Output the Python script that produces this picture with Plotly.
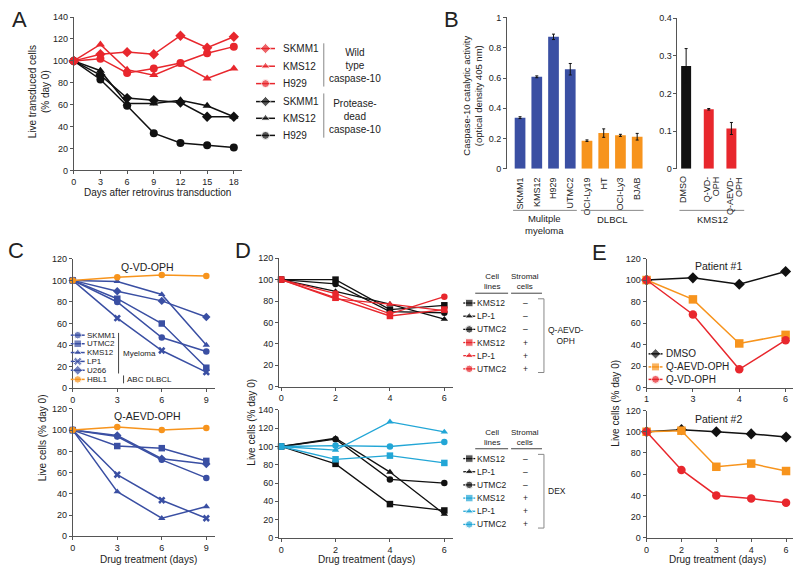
import plotly.graph_objects as go

W, H = 800, 576

# ---- panel A: days after transduction
A_days = [0, 3, 6, 9, 12, 15, 18]
A_wt_skmm1 = [100, 106, 108, 106, 123, 112, 122]
A_wt_kms12 = [100, 115, 92, 87, 97, 84, 93]
A_wt_h929 = [100, 102, 89, 93, 98, 107, 113]
A_pd_skmm1 = [100, 87, 66, 64, 62, 49, 49]
A_pd_kms12 = [100, 91, 61, 61, 64, 59, 49]
A_pd_h929 = [100, 83, 59, 34, 25, 23, 21]

# ---- panel B: caspase-10 activity
B_lines = ["SKMM1", "KMS12", "H929", "UTMC2", "OCI-Ly19", "HT", "OCI-Ly3", "BJAB"]
B_activity = [0.338, 0.608, 0.872, 0.658, 0.186, 0.236, 0.221, 0.212]
B_err = [0.006, 0.006, 0.018, 0.038, 0.005, 0.028, 0.007, 0.022]
B_treat = ["DMSO", "Q-VD-<br>OPH", "Q-AEVD-<br>OPH"]
B_treat_act = [0.273, 0.158, 0.107]
B_treat_err = [0.046, 0.002, 0.016]

# ---- panel C
C_days = [0, 3, 6, 9]
C_names = ["SKMM1", "UTMC2", "KMS12", "LP1", "U266", "HBL1"]
C_qvd = [[100, 80, 47, 34], [100, 83, 60, 19], [100, 99, 87, 40],
         [100, 65, 35, 15], [100, 90, 81, 66], [100, 103, 105, 104]]
C_aevd = [[100, 94, 72, 55], [100, 85, 83, 71], [100, 42, 17, 28],
          [100, 58, 34, 17], [100, 95, 73, 68], [100, 103, 100, 102]]

# ---- panel D
D_days = [0, 2, 4, 6]
D_names = ["KMS12", "LP-1", "UTMC2", "KMS12", "LP-1", "UTMC2"]
D_stromal = ["–", "–", "–", "+", "+", "+"]
D_aevd = [[100, 100, 72, 76], [100, 89, 77, 63], [100, 96, 70, 69],
          [100, 83, 66, 72], [100, 82, 77, 71], [100, 87, 68, 84]]
D_dex = [[100, 81, 37, 30], [100, 109, 72, 26], [100, 108, 64, 60],
         [100, 86, 90, 82], [100, 96, 127, 116], [100, 101, 100, 105]]

# ---- panel E
E_names = ["DMSO", "Q-AEVD-OPH", "Q-VD-OPH"]
E_p1_days = ["1", "3", "4", "6"]
E_p1 = [[100, 102, 96, 108], [100, 82, 41, 49], [100, 68, 17, 44]]
E_p2_days = ["0", "2", "3", "4", "6"]
E_p2 = [[100, 102, 100, 98, 95], [100, 101, 67, 70, 63], [100, 64, 40, 37, 33]]

RED = "#e8272d"
BLACK = "#111111"
BLUE = "#3a4fa3"
ORANGE = "#f7941d"
CYAN = "#22a6d6"
AXC = "#555555"
FONT = "Liberation Sans, Arial, sans-serif"

fig = go.Figure()
layout = {}
shapes = []
annots = []


def xdom(x0, x1):
    return [x0 / W, x1 / W]


def ydom(y0, y1):
    return [1 - y1 / H, 1 - y0 / H]


def add_axes(n, xd, xr, yd, yr, xt=None, yt=None, xtt=None, ytt=None, xline=True,
             xcat=False, xangle=0, xlabels=True):
    sx = "" if n == 1 else str(n)
    xa = dict(domain=xdom(*xd), range=xr, anchor="y" + sx, showgrid=False, zeroline=False,
              showline=xline, linecolor=AXC, linewidth=1, ticks="outside",
              ticklen=3 if xline else 4, tickcolor=AXC if xline else "rgba(0,0,0,0)",
              tickfont=dict(size=9, family=FONT, color="#222"), fixedrange=True,
              tickangle=xangle, showticklabels=xlabels)
    if xcat:
        xa["type"] = "category"
    if xt is not None:
        xa["tickvals"] = xt
        xa["ticktext"] = xtt if xtt is not None else [str(v) for v in xt]
    ya = dict(domain=ydom(*yd), range=yr, anchor="x" + sx, showgrid=False, zeroline=False,
              showline=True, linecolor=AXC, linewidth=1, ticks="outside", ticklen=3,
              tickcolor=AXC, tickfont=dict(size=9, family=FONT, color="#222"), fixedrange=True)
    if yt is not None:
        ya["tickvals"] = yt
        ya["ticktext"] = ytt if ytt is not None else [str(v) for v in yt]
    layout["xaxis" + sx] = xa
    layout["yaxis" + sx] = ya
    return "x" + sx, "y" + sx


def series(ax, x, y, color, symbol, size, width=1.5):
    fig.add_trace(go.Scatter(x=x, y=y, mode="lines+markers", xaxis=ax[0], yaxis=ax[1],
                             line=dict(color=color, width=width),
                             marker=dict(color=color, symbol=symbol, size=size),
                             cliponaxis=False, hoverinfo="skip"))


# ---------------- Panel A
axA = add_axes(1, (71, 240), [0, 18.93], (12.3, 168.3), [0, 140],
               xt=A_days, yt=list(range(0, 141, 20)))
syms = ["diamond", "triangle-up", "circle"]
for ys, s in zip([A_pd_skmm1, A_pd_kms12, A_pd_h929], syms):
    series(axA, A_days, ys, BLACK, s, 8)
for ys, s in zip([A_wt_skmm1, A_wt_kms12, A_wt_h929], syms):
    series(axA, A_days, ys, RED, s, 8)

# ---------------- Panel B
axB1 = add_axes(2, (506, 650), [-0.774, 7.8], (12.7, 166.7), [0, 1],
                xt=list(range(len(B_lines))), xtt=B_lines,
                yt=[0, 0.2, 0.4, 0.6, 0.8, 1], ytt=["0", "0.2", "0.4", "0.6", "0.8", "1"],
                xline=False, xangle=-90)
fig.add_trace(go.Bar(x=list(range(len(B_lines))), y=B_activity, width=0.64,
                     marker=dict(color=[BLUE] * 4 + [ORANGE] * 4, line=dict(width=0)),
                     error_y=dict(type="data", array=B_err, color="#111", thickness=1, width=1.5),
                     xaxis=axB1[0], yaxis=axB1[1], hoverinfo="skip"))
axB2 = add_axes(3, (677, 750), [-0.383, 2.83], (13.3, 166.7), [0, 0.4],
                xt=list(range(len(B_treat))), xtt=B_treat,
                yt=[0, 0.1, 0.2, 0.3, 0.4], ytt=["0", "0.1", "0.2", "0.3", "0.4"],
                xline=False, xlabels=False)
fig.add_trace(go.Bar(x=list(range(len(B_treat))), y=B_treat_act, width=0.44,
                     marker=dict(color=[BLACK, RED, RED], line=dict(width=0)),
                     error_y=dict(type="data", array=B_treat_err, color="#111", thickness=1, width=1.5),
                     xaxis=axB2[0], yaxis=axB2[1], hoverinfo="skip"))
# rotated two-line treatment labels, each line placed on the category axis
for i, lab in enumerate(B_treat):
    parts = lab.split("<br>")
    for j, p in enumerate(parts):
        shift = -3 if len(parts) == 1 else -1 + 9 * j
        annots.append(dict(x=i, y=H - 173.5, xref=axB2[0], yref="y10", text=p, showarrow=False,
                           textangle=-90, xanchor="center", yanchor="top", xshift=shift,
                           borderpad=0, font=dict(size=9, family=FONT, color="#222")))

# ---------------- Panel C
C_syms = ["circle", "square", "triangle-up", "x", "diamond", "circle"]
C_cols = [BLUE] * 5 + [ORANGE]
axC1 = add_axes(4, (70, 213), [0, 9.6], (258.3, 390), [0, 120],
                xt=C_days, yt=list(range(0, 121, 20)))
axC2 = add_axes(5, (70, 213), [0, 9.6], (411, 540.7), [0, 120],
                xt=C_days, yt=list(range(0, 121, 20)))
for ax, data in [(axC1, C_qvd), (axC2, C_aevd)]:
    for ys, s, c in zip(data, C_syms, C_cols):
        series(ax, C_days, ys, c, s, 6.5)

# ---------------- Panel D
D_syms = ["square", "triangle-up", "circle"] * 2
axD1 = add_axes(6, (277, 452), [-0.08, 6.33], (257.7, 388.3), [0, 120],
                xt=D_days, yt=list(range(0, 121, 20)))
axD2 = add_axes(7, (277, 452), [-0.08, 6.33], (412.1, 542.3), [0, 140],
                xt=D_days, yt=list(range(0, 141, 20)))
for ys, s, c in zip(D_aevd, D_syms, [BLACK] * 3 + [RED] * 3):
    series(axD1, D_days, ys, c, s, 6.5, 1.3)
for ys, s, c in zip(D_dex, D_syms, [BLACK] * 3 + [CYAN] * 3):
    series(axD2, D_days, ys, c, s, 6.5, 1.3)

# ---------------- Panel E
E_syms = ["diamond", "square", "circle"]
E_cols = [BLACK, ORANGE, RED]
axE1 = add_axes(8, (646, 793), [0, 3.16], (258, 389.3), [0, 120],
                yt=list(range(0, 121, 20)), xcat=True)
axE2 = add_axes(9, (646, 793), [0, 4.2], (412.7, 542.3), [0, 120],
                yt=list(range(0, 121, 20)), xcat=True)
for ys, s, c in zip(E_p1, E_syms, E_cols):
    series(axE1, E_p1_days, ys, c, s, 8.5)
for ys, s, c in zip(E_p2, E_syms, E_cols):
    series(axE2, E_p2_days, ys, c, s, 8.5)

# ---------------- overlay in pixel units (y measured upward) for legends and labels
layout["xaxis10"] = dict(domain=[0, 1], range=[0, W], visible=False, fixedrange=True, anchor="y10")
layout["yaxis10"] = dict(domain=[0, 1], range=[0, H], visible=False, fixedrange=True, anchor="x10")
OV = ("x10", "y10")


def txt(x, y, s, size=10, xanchor="center", angle=0, color="#222"):
    annots.append(dict(x=x, y=H - y, xref="x10", yref="y10", text=s, showarrow=False,
                       xanchor=xanchor, yanchor="middle", textangle=angle, borderpad=0,
                       font=dict(size=size, family=FONT, color=color)))


def seg(x0, y0, x1, y1, color="#888", width=1):
    shapes.append(dict(type="line", xref="x10", yref="y10", x0=x0, y0=H - y0, x1=x1, y1=H - y1,
                       line=dict(color=color, width=width)))


def key(x0, x1, y, color, symbol, size, width=1.5):
    fig.add_trace(go.Scatter(x=[x0, (x0 + x1) / 2, x1], y=[H - y] * 3, mode="lines+markers",
                             xaxis=OV[0], yaxis=OV[1], line=dict(color=color, width=width),
                             marker=dict(color=color, symbol=symbol, size=[0, size, 0]),
                             cliponaxis=False, hoverinfo="skip"))


# panel letters
for L, x, y in [("A", 17, 15), ("B", 450, 15), ("C", 13, 250), ("D", 241, 250), ("E", 599, 252)]:
    txt(x, y, L, size=22)

# A titles and legend
txt(37, 88, "Live transduced cells<br>(% day 0)", angle=-90)
txt(155, 191, "Days after retrovirus transduction")
A_key_rows = [44.3, 62.3, 80, 98.3, 115.3, 132.7]
A_key_names = ["SKMM1", "KMS12", "H929"] * 2
for i, (yy, nm) in enumerate(zip(A_key_rows, A_key_names)):
    key(254, 273, yy, RED if i < 3 else BLACK, syms[i % 3], 8)
    txt(280, yy, nm, xanchor="left")
seg(322, 39, 322, 83)
seg(322, 90, 322, 135)
txt(353, 62, "Wild<br>type<br>caspase-10")
txt(353, 113, "Protease-<br>dead<br>caspase-10")

# B titles and groups
txt(471, 92, "Caspase-10 catalytic activity<br>(optical density 405 nm)", size=9.5, angle=-90)
seg(512, 209, 576, 209)
seg(580, 209, 643, 209)
seg(679, 209, 744, 209)
txt(544, 223, "Mulitple<br>myeloma", size=9.5)
txt(612, 218, "DLBCL", size=9.5)
txt(712, 218, "KMS12", size=9.5)

# C titles and legend
txt(145, 267, "Q-VD-OPH", size=10.5)
txt(145, 418, "Q-AEVD-OPH", size=10.5)
txt(40, 440, "Live cells (% day 0)", angle=-90)
txt(146, 564, "Drug treatment (days)")
C_key_rows = [336, 344.7, 353.7, 362.7, 371.7, 381]
for yy, nm, s, c in zip(C_key_rows, C_names, C_syms, C_cols):
    key(68, 82, yy, c, s, 7.5)
    txt(83, yy, nm, size=8, xanchor="left")
seg(116, 333.7, 116, 375, color="#444")
txt(119, 355, "Myeloma", size=8, xanchor="left")
seg(121, 377, 121, 385, color="#444")
txt(123, 381, "ABC DLBCL", size=8, xanchor="left")

# D titles and legends
txt(250, 425, "Live cells (% day 0)", angle=-90)
txt(365, 564, "Drug treatment (days)")
for top, cols, label, lx, anchor in [(281.7, [BLACK] * 3 + [RED] * 3, "Q-AEVD-<br>OPH", 565, "center"),
                                     (440, [BLACK] * 3 + [CYAN] * 3, "DEX", 546, "left")]:
    txt(491, top, "Cell<br>lines", size=8)
    txt(524, top, "Stromal<br>cells", size=8)
    seg(474, top + 11.6, 507, top + 11.6, color="#444")
    seg(510, top + 11.6, 541, top + 11.6, color="#444")
    rows = [top + 21.6 + 13.4 * i for i in range(6)]
    for yy, nm, sg, s, c in zip(rows, D_names, D_stromal, D_syms, cols):
        key(462, 474, yy, c, s, 7.5, 1.3)
        txt(475, yy, nm, size=8.5, xanchor="left")
        txt(524, yy, sg, size=8.5)
    y0, y1 = top + 17.3, top + 92.3
    seg(543, y0, 543, y1)
    seg(537, y0, 543, y0)
    seg(537, y1, 543, y1)
    txt(lx, (y0 + y1) / 2, label, size=8.5, xanchor=anchor)

# E titles and legend
txt(718, 266, "Patient #1", size=10.5)
txt(718, 421, "Patient #2", size=10.5)
txt(615, 405, "Live cells (% day 0)", angle=-90)
txt(717, 564, "Drug treatment (days)")
for yy, nm, s, c in zip([355, 368.3, 381], E_names, E_syms, E_cols):
    key(648, 662, yy, c, s, 8)
    txt(664, yy, nm, size=10, xanchor="left")

fig.update_layout(width=W, height=H, margin=dict(l=0, r=0, t=0, b=0),
                  paper_bgcolor="white", plot_bgcolor="rgba(0,0,0,0)", showlegend=False,
                  font=dict(family=FONT, size=9, color="#222"),
                  shapes=shapes, annotations=annots, **layout)
fig.write_html("out.html", config={"displayModeBar": False},
               post_script="document.body.style.margin='0px';")
